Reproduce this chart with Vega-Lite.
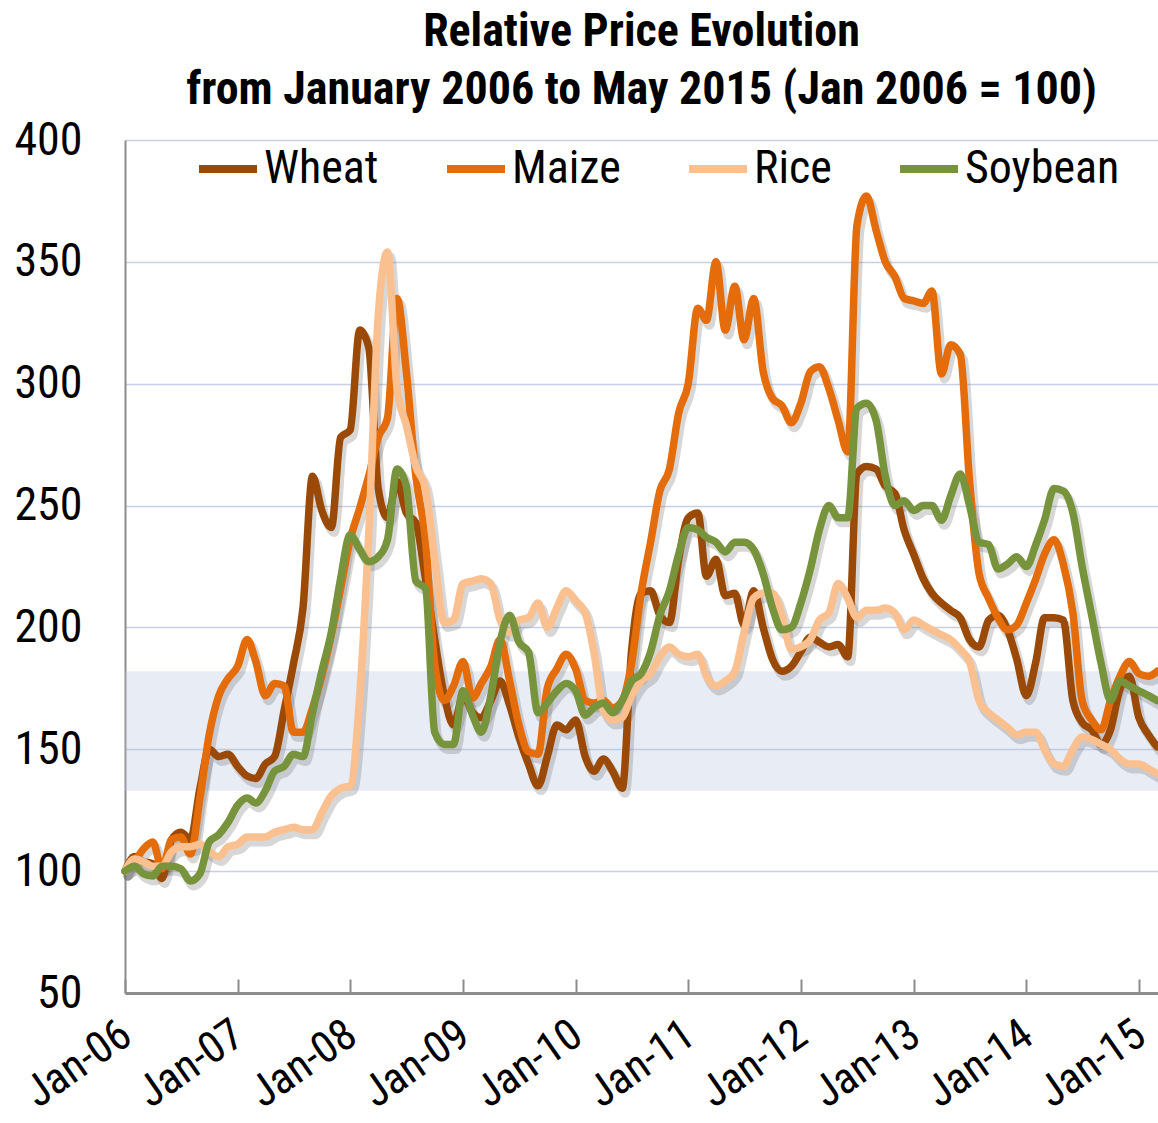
{
"$schema": "https://vega.github.io/schema/vega-lite/v6.json",
"width": 1033, "height": 853,
"autosize": {"type": "none"},
"padding": {"left": 125, "top": 140, "right": 0, "bottom": 130},
"background": "white",
"config": {"font": "Roboto Condensed, DejaVu Sans Condensed, sans-serif", "view": {"stroke": null}},
"title": {"text": ["Relative Price Evolution", "from January 2006 to May 2015 (Jan 2006 = 100)"], "fontSize": 46, "fontWeight": "bold", "font": "Roboto Condensed, DejaVu Sans Condensed, sans-serif", "lineHeight": 58, "anchor": "middle", "frame": "group", "offset": 3, "color": "black"},
"data": {"values": [
{"d":"2006-01-01","Wheat":100,"Maize":100,"Rice":100,"Soybean":100},
{"d":"2006-02-01","Wheat":106,"Maize":104,"Rice":105,"Soybean":102},
{"d":"2006-03-01","Wheat":104,"Maize":109,"Rice":104,"Soybean":99},
{"d":"2006-04-01","Wheat":103,"Maize":112,"Rice":102,"Soybean":98},
{"d":"2006-05-01","Wheat":97,"Maize":101,"Rice":102,"Soybean":102},
{"d":"2006-06-01","Wheat":113,"Maize":113,"Rice":108,"Soybean":102},
{"d":"2006-07-01","Wheat":116,"Maize":114,"Rice":110,"Soybean":101},
{"d":"2006-08-01","Wheat":113,"Maize":107,"Rice":110,"Soybean":96},
{"d":"2006-09-01","Wheat":134,"Maize":130,"Rice":111,"Soybean":99},
{"d":"2006-10-01","Wheat":150,"Maize":156,"Rice":108,"Soybean":112},
{"d":"2006-11-01","Wheat":147,"Maize":172,"Rice":106,"Soybean":115},
{"d":"2006-12-01","Wheat":148,"Maize":179,"Rice":110,"Soybean":120},
{"d":"2007-01-01","Wheat":143,"Maize":184,"Rice":111,"Soybean":127},
{"d":"2007-02-01","Wheat":139,"Maize":195,"Rice":114,"Soybean":130},
{"d":"2007-03-01","Wheat":138,"Maize":186,"Rice":114,"Soybean":128},
{"d":"2007-04-01","Wheat":144,"Maize":172,"Rice":114,"Soybean":133},
{"d":"2007-05-01","Wheat":147,"Maize":177,"Rice":116,"Soybean":141},
{"d":"2007-06-01","Wheat":166,"Maize":176,"Rice":117,"Soybean":143},
{"d":"2007-07-01","Wheat":185,"Maize":157,"Rice":118,"Soybean":148},
{"d":"2007-08-01","Wheat":208,"Maize":157,"Rice":117,"Soybean":147},
{"d":"2007-09-01","Wheat":262,"Maize":167,"Rice":117,"Soybean":165},
{"d":"2007-10-01","Wheat":248,"Maize":180,"Rice":124,"Soybean":182},
{"d":"2007-11-01","Wheat":241,"Maize":197,"Rice":131,"Soybean":198},
{"d":"2007-12-01","Wheat":278,"Maize":216,"Rice":134,"Soybean":220},
{"d":"2008-01-01","Wheat":281,"Maize":236,"Rice":135,"Soybean":238},
{"d":"2008-02-01","Wheat":322,"Maize":249,"Rice":172,"Soybean":232},
{"d":"2008-03-01","Wheat":315,"Maize":262,"Rice":238,"Soybean":227},
{"d":"2008-04-01","Wheat":257,"Maize":278,"Rice":328,"Soybean":229},
{"d":"2008-05-01","Wheat":245,"Maize":286,"Rice":354,"Soybean":236},
{"d":"2008-06-01","Wheat":260,"Maize":335,"Rice":298,"Soybean":265},
{"d":"2008-07-01","Wheat":247,"Maize":305,"Rice":283,"Soybean":258},
{"d":"2008-08-01","Wheat":243,"Maize":262,"Rice":266,"Soybean":219},
{"d":"2008-09-01","Wheat":220,"Maize":236,"Rice":257,"Soybean":216},
{"d":"2008-10-01","Wheat":195,"Maize":185,"Rice":228,"Soybean":157},
{"d":"2008-11-01","Wheat":172,"Maize":170,"Rice":202,"Soybean":152},
{"d":"2008-12-01","Wheat":160,"Maize":176,"Rice":203,"Soybean":152},
{"d":"2009-01-01","Wheat":172,"Maize":186,"Rice":218,"Soybean":174},
{"d":"2009-02-01","Wheat":165,"Maize":171,"Rice":219,"Soybean":164},
{"d":"2009-03-01","Wheat":163,"Maize":177,"Rice":220,"Soybean":157},
{"d":"2009-04-01","Wheat":170,"Maize":184,"Rice":218,"Soybean":172},
{"d":"2009-05-01","Wheat":178,"Maize":195,"Rice":203,"Soybean":194},
{"d":"2009-06-01","Wheat":168,"Maize":178,"Rice":198,"Soybean":205},
{"d":"2009-07-01","Wheat":155,"Maize":160,"Rice":203,"Soybean":194},
{"d":"2009-08-01","Wheat":144,"Maize":149,"Rice":204,"Soybean":190},
{"d":"2009-09-01","Wheat":135,"Maize":148,"Rice":210,"Soybean":165},
{"d":"2009-10-01","Wheat":147,"Maize":175,"Rice":200,"Soybean":169},
{"d":"2009-11-01","Wheat":160,"Maize":183,"Rice":208,"Soybean":174},
{"d":"2009-12-01","Wheat":158,"Maize":189,"Rice":215,"Soybean":177},
{"d":"2010-01-01","Wheat":162,"Maize":183,"Rice":211,"Soybean":174},
{"d":"2010-02-01","Wheat":147,"Maize":170,"Rice":206,"Soybean":164},
{"d":"2010-03-01","Wheat":141,"Maize":169,"Rice":190,"Soybean":167},
{"d":"2010-04-01","Wheat":146,"Maize":170,"Rice":166,"Soybean":169},
{"d":"2010-05-01","Wheat":141,"Maize":167,"Rice":162,"Soybean":165},
{"d":"2010-06-01","Wheat":134,"Maize":170,"Rice":163,"Soybean":170},
{"d":"2010-07-01","Wheat":190,"Maize":185,"Rice":172,"Soybean":178},
{"d":"2010-08-01","Wheat":214,"Maize":214,"Rice":178,"Soybean":181},
{"d":"2010-09-01","Wheat":215,"Maize":235,"Rice":181,"Soybean":190},
{"d":"2010-10-01","Wheat":205,"Maize":256,"Rice":188,"Soybean":205},
{"d":"2010-11-01","Wheat":202,"Maize":265,"Rice":192,"Soybean":215},
{"d":"2010-12-01","Wheat":228,"Maize":288,"Rice":189,"Soybean":230},
{"d":"2011-01-01","Wheat":245,"Maize":300,"Rice":188,"Soybean":241},
{"d":"2011-02-01","Wheat":247,"Maize":331,"Rice":189,"Soybean":240},
{"d":"2011-03-01","Wheat":221,"Maize":326,"Rice":180,"Soybean":237},
{"d":"2011-04-01","Wheat":228,"Maize":350,"Rice":176,"Soybean":235},
{"d":"2011-05-01","Wheat":213,"Maize":322,"Rice":178,"Soybean":231},
{"d":"2011-06-01","Wheat":214,"Maize":340,"Rice":182,"Soybean":235},
{"d":"2011-07-01","Wheat":201,"Maize":318,"Rice":198,"Soybean":235},
{"d":"2011-08-01","Wheat":215,"Maize":335,"Rice":212,"Soybean":232},
{"d":"2011-09-01","Wheat":200,"Maize":305,"Rice":214,"Soybean":222},
{"d":"2011-10-01","Wheat":187,"Maize":294,"Rice":214,"Soybean":208},
{"d":"2011-11-01","Wheat":182,"Maize":291,"Rice":205,"Soybean":199},
{"d":"2011-12-01","Wheat":184,"Maize":284,"Rice":191,"Soybean":200},
{"d":"2012-01-01","Wheat":190,"Maize":292,"Rice":192,"Soybean":210},
{"d":"2012-02-01","Wheat":196,"Maize":305,"Rice":195,"Soybean":224},
{"d":"2012-03-01","Wheat":194,"Maize":307,"Rice":203,"Soybean":240},
{"d":"2012-04-01","Wheat":192,"Maize":298,"Rice":206,"Soybean":250},
{"d":"2012-05-01","Wheat":193,"Maize":285,"Rice":218,"Soybean":245},
{"d":"2012-06-01","Wheat":188,"Maize":272,"Rice":212,"Soybean":245},
{"d":"2012-07-01","Wheat":263,"Maize":365,"Rice":204,"Soybean":290},
{"d":"2012-08-01","Wheat":266,"Maize":377,"Rice":207,"Soybean":292},
{"d":"2012-09-01","Wheat":265,"Maize":363,"Rice":207,"Soybean":285},
{"d":"2012-10-01","Wheat":258,"Maize":350,"Rice":208,"Soybean":262},
{"d":"2012-11-01","Wheat":255,"Maize":344,"Rice":206,"Soybean":250},
{"d":"2012-12-01","Wheat":240,"Maize":335,"Rice":199,"Soybean":252},
{"d":"2013-01-01","Wheat":230,"Maize":334,"Rice":203,"Soybean":248},
{"d":"2013-02-01","Wheat":220,"Maize":333,"Rice":201,"Soybean":250},
{"d":"2013-03-01","Wheat":214,"Maize":338,"Rice":199,"Soybean":250},
{"d":"2013-04-01","Wheat":210,"Maize":304,"Rice":197,"Soybean":244},
{"d":"2013-05-01","Wheat":207,"Maize":316,"Rice":195,"Soybean":254},
{"d":"2013-06-01","Wheat":204,"Maize":312,"Rice":191,"Soybean":263},
{"d":"2013-07-01","Wheat":195,"Maize":260,"Rice":186,"Soybean":250},
{"d":"2013-08-01","Wheat":192,"Maize":222,"Rice":170,"Soybean":235},
{"d":"2013-09-01","Wheat":203,"Maize":212,"Rice":165,"Soybean":234},
{"d":"2013-10-01","Wheat":205,"Maize":204,"Rice":162,"Soybean":224},
{"d":"2013-11-01","Wheat":199,"Maize":199,"Rice":159,"Soybean":226},
{"d":"2013-12-01","Wheat":187,"Maize":201,"Rice":156,"Soybean":229},
{"d":"2014-01-01","Wheat":172,"Maize":210,"Rice":157,"Soybean":225},
{"d":"2014-02-01","Wheat":186,"Maize":220,"Rice":157,"Soybean":234},
{"d":"2014-03-01","Wheat":204,"Maize":230,"Rice":150,"Soybean":244},
{"d":"2014-04-01","Wheat":204,"Maize":236,"Rice":144,"Soybean":257},
{"d":"2014-05-01","Wheat":203,"Maize":226,"Rice":143,"Soybean":256},
{"d":"2014-06-01","Wheat":170,"Maize":206,"Rice":150,"Soybean":247},
{"d":"2014-07-01","Wheat":161,"Maize":170,"Rice":155,"Soybean":225},
{"d":"2014-08-01","Wheat":158,"Maize":162,"Rice":154,"Soybean":205},
{"d":"2014-09-01","Wheat":152,"Maize":158,"Rice":152,"Soybean":185},
{"d":"2014-10-01","Wheat":158,"Maize":170,"Rice":150,"Soybean":170},
{"d":"2014-11-01","Wheat":175,"Maize":180,"Rice":146,"Soybean":178},
{"d":"2014-12-01","Wheat":180,"Maize":186,"Rice":144,"Soybean":176},
{"d":"2015-01-01","Wheat":163,"Maize":181,"Rice":144,"Soybean":174},
{"d":"2015-02-01","Wheat":156,"Maize":180,"Rice":142,"Soybean":172},
{"d":"2015-03-01","Wheat":151,"Maize":182,"Rice":140,"Soybean":170}
]},
"transform": [{"fold": ["Wheat", "Maize", "Rice", "Soybean"], "as": ["s", "v"]}],
"encoding": {
  "x": {"field": "d", "type": "temporal",
    "scale": {"type": "utc", "domain": [{"year": 2006, "month": 1, "date": 1, "utc": true}, {"year": 2015, "month": 3, "date": 4, "utc": true}]},
    "axis": {"title": null, "labelExpr": "utcFormat(datum.value, '%b-%y')", "grid": false,
      "values": [{"year":2006,"month":1,"date":1,"utc":true},{"year":2007,"month":1,"date":1,"utc":true},{"year":2008,"month":1,"date":1,"utc":true},{"year":2009,"month":1,"date":1,"utc":true},{"year":2010,"month":1,"date":1,"utc":true},{"year":2011,"month":1,"date":1,"utc":true},{"year":2012,"month":1,"date":1,"utc":true},{"year":2013,"month":1,"date":1,"utc":true},{"year":2014,"month":1,"date":1,"utc":true},{"year":2015,"month":1,"date":1,"utc":true}],
      "labelAngle": -35, "labelAlign": "right", "labelBaseline": "top", "labelFontSize": 44, "labelColor": "black", "labelPadding": 33, "labelOffset": -11,
      "domainColor": "#8c8c8c", "domainWidth": 3, "tickColor": "#8c8c8c", "tickWidth": 2, "tickSize": -14, "labelFlush": false, "labelOverlap": false}},
  "y": {"field": "v", "type": "quantitative", "scale": {"domain": [50, 400], "nice": false, "zero": false},
    "axis": {"title": null, "values": [50, 100, 150, 200, 250, 300, 350, 400], "ticks": false, "labelFontSize": 46, "labelColor": "black", "labelPadding": 43,
      "domainColor": "#8c8c8c", "domainWidth": 2, "gridColor": "#c6d0e4", "gridWidth": 1.5}}
},
"layer": [
  {"data": {"values": [{"lo": 133, "hi": 182}]},
   "transform": [],
   "mark": {"type": "rect", "fill": "#b7c5de", "opacity": 0.32},
   "encoding": {"x": null, "y": {"field": "lo", "type": "quantitative"}, "y2": {"field": "hi"}}},
  {"mark": {"type": "line", "interpolate": "monotone", "strokeWidth": 9, "color": "#6e6e6e", "opacity": 0.28, "xOffset": 3, "yOffset": 5, "strokeJoin": "round", "strokeCap": "round"},
   "encoding": {"detail": {"field": "s", "type": "nominal"}}},
  {"mark": {"type": "line", "interpolate": "monotone", "strokeWidth": 7.5, "strokeJoin": "round", "strokeCap": "round"},
   "encoding": {"color": {"field": "s", "type": "nominal",
     "scale": {"domain": ["Wheat", "Maize", "Rice", "Soybean"], "range": ["#9a4a06", "#e46c0a", "#fac090", "#77933c"]},
     "legend": {"orient": "none", "legendX": 70, "legendY": -4, "direction": "horizontal", "columns": 4, "title": null,
       "symbolType": "stroke", "symbolSize": 3364, "symbolStrokeWidth": 8, "labelFontSize": 46, "labelColor": "black",
       "columnPadding": 52, "labelOffset": 3, "labelLimit": 400}}}}
]
}
